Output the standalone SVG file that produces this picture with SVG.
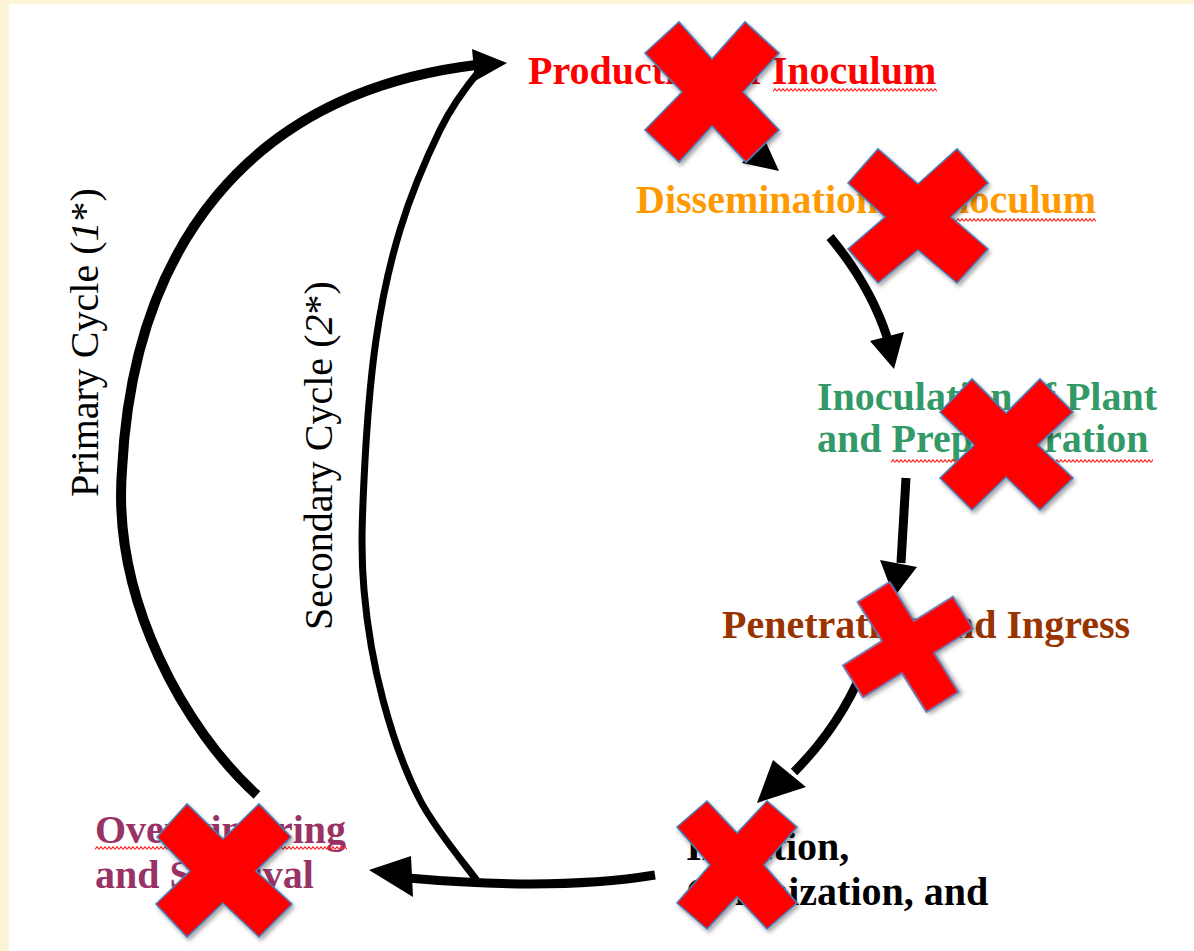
<svg xmlns="http://www.w3.org/2000/svg" width="1194" height="951" viewBox="0 0 1194 951">
<style>
.lbl{font-family:"Liberation Serif","Times New Roman",serif;font-weight:bold;font-size:40px}
.cyc{font-family:"Liberation Serif","Times New Roman",serif;font-size:40px;fill:#000}
.arc{fill:none;stroke:#000;stroke-linecap:butt}
.head{fill:#000}
.x{fill:#FF0000;stroke:#4A7EBB;stroke-width:1.6;stroke-linejoin:miter;filter:url(#sh)}
</style>
<defs>
<pattern id="wave" width="4" height="4" patternUnits="userSpaceOnUse">
<path d="M0,3.3 L2,0.7 L4,3.3" fill="none" stroke="#FF2020" stroke-width="1.1"/>
</pattern>
<filter id="sh" x="-20%" y="-20%" width="150%" height="150%">
<feDropShadow dx="2" dy="3" stdDeviation="2" flood-color="#000" flood-opacity="0.35"/>
</filter>
</defs>
<rect x="0" y="0" width="1194" height="951" fill="#FDF3D7"/>
<rect x="9" y="4" width="1185" height="947" fill="#FFFFFF"/>

<g id="connectors">
<path class="arc" stroke-width="10" d="M257,795 C185,730 112,600 122,470 C133,250 246,93 476,65"/>
<path class="arc" stroke-width="7" d="M478,882 C468.3,868.3 435.8,830.3 420,800 C404.2,769.7 392.3,735 383,700 C373.7,665 367.2,626.7 364,590 C360.8,553.3 362,521.7 364,480 C366,438.3 370,381.7 376,340 C382,298.3 389.3,265 400,230 C410.7,195 427,156.7 440,130 C453,103.3 471.7,80 480,70"/>
<polygon class="head" points="472,49 507,63 475,81"/>
<path class="arc" stroke-width="9" d="M712,100 L756,148"/>
<polygon class="head" points="764,138 779,171 742,163"/>
<path class="arc" stroke-width="9" d="M830,237 Q870,285 887,337"/>
<polygon class="head" points="870,341 904,332 894,369"/>
<path class="arc" stroke-width="9" d="M906,478 L901,563"/>
<polygon class="head" points="880,560 917,567 894,597"/>
<path class="arc" stroke-width="9" d="M862,672 Q838,728 794,772"/>
<polygon class="head" points="773,760 806,787 757,803"/>
<path class="arc" stroke-width="9" d="M655,875 C600,884 520,888 408,878"/>
<polygon class="head" points="411,856 369,870 413,897"/>
</g>

<g id="primary-label">
<text class="cyc" transform="translate(98,497) rotate(-90)">Primary Cycle (<tspan font-style="italic">1</tspan>*)</text>
</g>
<g id="secondary-label">
<text class="cyc" transform="translate(332,630) rotate(-90)">Secondary Cycle (<tspan font-style="italic">2</tspan>*)</text>
</g>

<g id="production">
<text class="lbl" x="528" y="84" fill="#FF0000">Production of Inoculum</text>
<rect x="0" y="0" width="164" height="4" fill="url(#wave)" transform="translate(773,88)"/>
</g>
<g id="dissemination">
<text class="lbl" x="636" y="213" fill="#FF9900">Dissemination of Inoculum</text>
<rect x="0" y="0" width="164" height="4" fill="url(#wave)" transform="translate(932,218)"/>
</g>
<g id="inoculation">
<text class="lbl" x="817" y="410" fill="#339966">Inoculation of Plant</text>
<text class="lbl" x="817" y="452" fill="#339966">and Prepenetration</text>
<rect x="0" y="0" width="262" height="4" fill="url(#wave)" transform="translate(891,459)"/>
</g>
<g id="penetration">
<text class="lbl" x="722" y="638" fill="#993300">Penetration and Ingress</text>
</g>
<g id="infection">
<text class="lbl" x="686" y="860" fill="#000000">Infection,</text>
<text class="lbl" x="686" y="905" fill="#000000">Colonization, and</text>
</g>
<g id="overwintering">
<text class="lbl" x="95" y="843" fill="#993366">Overwintering</text>
<text class="lbl" x="95" y="888" fill="#993366">and Survival</text>
<rect x="0" y="0" width="252" height="4" fill="url(#wave)" transform="translate(95,846)"/>
</g>

<g id="x-marks">
<polygon class="x" points="645,53 679,22 712,59 745,22 779,53 743,92 779,130 746,162 712,126 679,162 645,130 682,92"/>
<polygon class="x" points="848,183 878,149 918,184 957,149 988,183 951,217 988,249 957,283 918,250 878,283 848,249 885,217"/>
<polygon class="x" points="940,412 972,379 1006,413 1040,379 1073,412 1038,445 1073,478 1040,510 1006,477 972,510 940,478 974,445"/>
<polygon class="x" transform="translate(908,647) rotate(-32)" points="-19,-65 19,-65 19,-19 65,-19 65,19 19,19 19,65 -19,65 -19,19 -65,19 -65,-19 -19,-19"/>
<polygon class="x" points="677,827 707,801 737,833 767,801 797,827 764,865 797,903 767,929 737,897 707,929 677,903 710,865"/>
<polygon class="x" points="157,837 187,804 223,839 259,804 291,837 256,871 292,904 259,937 223,903 187,937 156,904 190,871"/>
</g>
</svg>
